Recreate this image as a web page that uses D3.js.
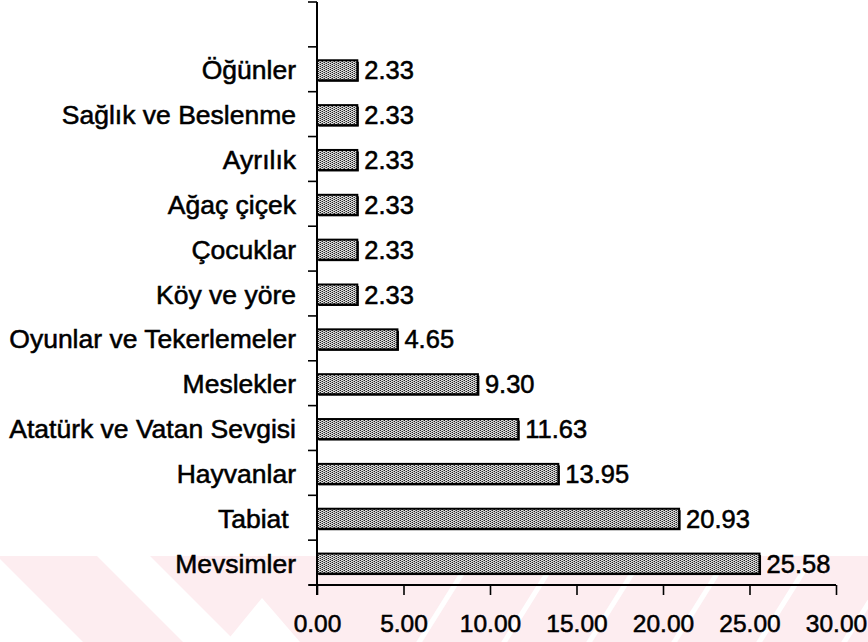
<!DOCTYPE html>
<html>
<head>
<meta charset="utf-8">
<script src="https://cdn.jsdelivr.net/npm/d3@7"></script>
<style>
  html, body { margin: 0; padding: 0; background: #fff; }
  svg { display: block; }
  text { font-family: "Liberation Sans", Arial, sans-serif; fill: #000; stroke: #000; stroke-width: 0.55px; white-space: pre; }
</style>
</head>
<body>
<svg id="chart" width="868" height="642"></svg>
<script>
// Topic categories (bottom to top) and their percentages
const categories = [
  "Mevsimler", "Tabiat ", "Hayvanlar", "Atatürk ve Vatan Sevgisi", "Meslekler",
  "Oyunlar ve Tekerlemeler", "Köy ve yöre", "Çocuklar", "Ağaç çiçek", "Ayrılık",
  "Sağlık ve Beslenme", "Öğünler"
];
const values = [25.58, 20.93, 13.95, 11.63, 9.30, 4.65, 2.33, 2.33, 2.33, 2.33, 2.33, 2.33];
const xTicks = [0, 5, 10, 15, 20, 25, 30];

const svg = d3.select("#chart");
const W = 868, H = 642;

// ---- faint background stamp along the bottom edge ----
const bg = svg.append("g");
const pink = "#fdedf0";
const stampTop = 556;
bg.append("rect").attr("x", 0).attr("y", stampTop).attr("width", W).attr("height", H - stampTop).attr("fill", pink);
const whiteShapes = [
  [[0, 559], [83, 642], [0, 642]],
  [[97, stampTop], [150, stampTop], [236, 642], [183, 642]],
  [[262, 598], [300, 642], [226, 642]]
];
const slope = 1.6;
[470, 555, 640, 725, 810, 895, 980].forEach(x0 => {
  const dx = (H - stampTop) / slope;
  whiteShapes.push([[x0, stampTop], [x0 + 6, stampTop], [x0 + 6 - dx, H], [x0 - dx, H]]);
});
bg.selectAll("polygon.gap").data(whiteShapes).join("polygon")
  .attr("class", "gap")
  .attr("points", d => d.map(p => p.join(",")).join(" "))
  .attr("fill", "#fff");

// ---- bar fill pattern ----
const defs = svg.append("defs");
const pat = defs.append("pattern").attr("id", "dots")
  .attr("width", 4).attr("height", 2).attr("patternUnits", "userSpaceOnUse");
pat.append("rect").attr("width", 4).attr("height", 2).attr("fill", "#dedede");
pat.append("rect").attr("x", 0).attr("y", 0).attr("width", 1).attr("height", 1).attr("fill", "#222");
pat.append("rect").attr("x", 2).attr("y", 1).attr("width", 1).attr("height", 1).attr("fill", "#222");
pat.append("rect").attr("x", 1).attr("y", 1).attr("width", 1).attr("height", 1).attr("fill", "#8a8a8a");
pat.append("rect").attr("x", 3).attr("y", 0).attr("width", 1).attr("height", 1).attr("fill", "#8a8a8a");

// ---- scales ----
const axisY = 585, axisTop = 2;
const x = d3.scaleLinear().domain([0, 30]).range([317, 836]);
// one empty slot above the last category
const slots = categories.concat(["__top"]);
const y = d3.scaleBand().domain(slots).range([axisY, axisTop]).padding(0);
const step = y.step();

const g = svg.append("g");

// ---- y axis: line with ticks on the category boundaries ----
g.append("line").attr("x1", x(0)).attr("x2", x(0)).attr("y1", axisTop).attr("y2", axisY + 10)
  .attr("stroke", "#000").attr("stroke-width", 2);
const boundaries = slots.map(d => y(d) + y.bandwidth()).concat([y("__top")]);
g.selectAll("line.ytick").data(boundaries).join("line")
  .attr("class", "ytick")
  .attr("x1", x(0) - 9).attr("x2", x(0))
  .attr("y1", d => d).attr("y2", d => d)
  .attr("stroke", "#000").attr("stroke-width", 1.6);

// ---- x axis ----
const xAxis = d3.axisBottom(x).tickValues(xTicks).tickSize(10).tickSizeOuter(0)
  .tickFormat(d => d.toFixed(2));
const xg = g.append("g").attr("transform", `translate(0,${axisY})`).call(xAxis);
xg.select(".domain").attr("stroke", "#000").attr("stroke-width", 2)
  .attr("d", `M${x(0) - 8},0H${x(30)}`);
xg.selectAll(".tick line").attr("stroke", "#000").attr("stroke-width", 1.6);
xg.selectAll(".tick text")
  .attr("y", 47).attr("dy", 0)
  .style("font-size", "24.5px")
  .style("font-family", "'Liberation Sans', Arial, sans-serif")
  .attr("fill", "#000");

// ---- bars ----
const barH = 20;
const rows = categories.map((c, i) => ({ c, v: values[i] }));
const barG = g.append("g");
barG.selectAll("rect.shadow").data(rows).join("rect")
  .attr("class", "shadow")
  .attr("x", x(0) + 1.5)
  .attr("y", d => y(d.c) + step / 2 - barH / 2 + 2.5)
  .attr("width", d => x(d.v) - x(0))
  .attr("height", barH)
  .attr("fill", "#000");
barG.selectAll("rect.bar").data(rows).join("rect")
  .attr("class", "bar")
  .attr("x", x(0))
  .attr("y", d => y(d.c) + step / 2 - barH / 2 + 1)
  .attr("width", d => x(d.v) - x(0))
  .attr("height", barH)
  .attr("fill", "url(#dots)")
  .attr("stroke", "#000").attr("stroke-width", 2);

// ---- value labels ----
g.selectAll("text.val").data(rows).join("text")
  .attr("class", "val")
  .attr("x", d => x(d.v) + 7)
  .attr("y", d => y(d.c) + step / 2 + 10)
  .style("font-size", "25.5px")
  .text(d => d.v.toFixed(2));

// ---- category labels ----
g.selectAll("text.cat").data(rows).join("text")
  .attr("class", "cat")
  .attr("x", 296)
  .attr("y", d => y(d.c) + step / 2 + 10)
  .attr("text-anchor", "end")
  .style("font-size", "26.5px")
  .text(d => d.c);
</script>
</body>
</html>
